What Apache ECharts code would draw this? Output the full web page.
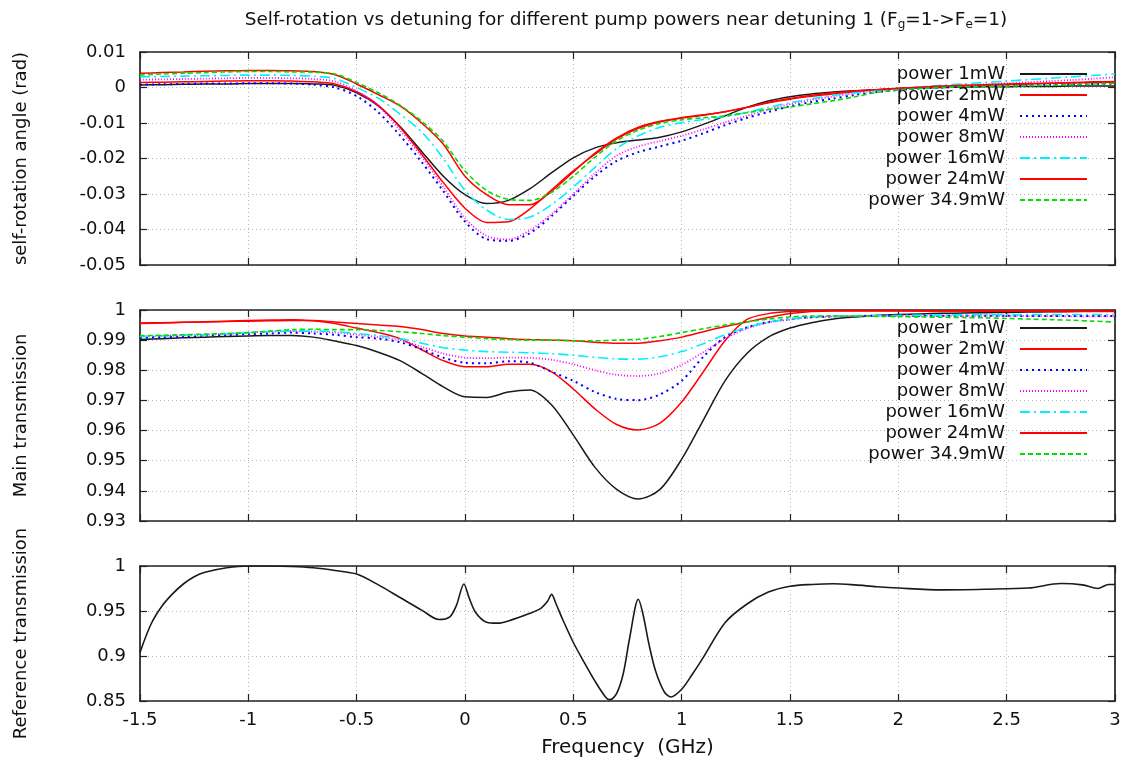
<!DOCTYPE html>
<html>
<head>
<meta charset="utf-8">
<script src="https://cdn.jsdelivr.net/npm/echarts@6/dist/echarts.min.js"></script>
<style>html,body{margin:0;padding:0;background:#fff}#c{width:1125px;height:763px}</style>
</head>
<body>
<div id="c"></div>
<script>
// ---------- data ----------
const names = ['power 1mW','power 2mW','power 4mW','power 8mW','power 16mW','power 24mW','power 34.9mW'];
const xs = [-1.5,-1.4,-1.3,-1.2,-1.1,-1.0,-0.9,-0.8,-0.7,-0.6,-0.5,-0.4,-0.3,-0.2,-0.1,0,0.1,0.2,0.3,0.4,0.5,0.6,0.7,0.8,0.9,1.0,1.1,1.2,1.3,1.4,1.5,1.6,1.7,1.8,1.9,2.0,2.1,2.2,2.3,2.4,2.5,2.6,2.7,2.8,2.9,3.0];

// self-rotation angle (rad)
const rot1 = [0.0007,0.0008,0.0009,0.0010,0.0010,0.0011,0.0011,0.0011,0.0010,0.0006,-0.0015,-0.0052,-0.0110,-0.0180,-0.0250,-0.0302,-0.0327,-0.0318,-0.0285,-0.0240,-0.0198,-0.0170,-0.0156,-0.0148,-0.0140,-0.0125,-0.0104,-0.0080,-0.0056,-0.0038,-0.0026,-0.0018,-0.0013,-0.0009,-0.0006,-0.0003,-0.0001,0.0000,0.0001,0.0002,0.0002,0.0003,0.0003,0.0004,0.0004,0.0004];
const rot2 = [0.0014,0.0015,0.0016,0.0017,0.0018,0.0019,0.0019,0.0018,0.0016,0.0010,-0.0012,-0.0050,-0.0112,-0.0188,-0.0268,-0.0340,-0.0380,-0.0378,-0.0342,-0.0288,-0.0235,-0.0188,-0.0145,-0.0115,-0.0097,-0.0086,-0.0078,-0.0068,-0.0056,-0.0043,-0.0033,-0.0025,-0.0018,-0.0012,-0.0007,-0.0003,0.0000,0.0002,0.0004,0.0006,0.0008,0.0010,0.0012,0.0014,0.0016,0.0017];
const rot4 = [0.0008,0.0009,0.0010,0.0011,0.0011,0.0012,0.0012,0.0011,0.0008,0.0000,-0.0024,-0.0070,-0.0135,-0.0210,-0.0292,-0.0378,-0.0427,-0.0432,-0.0410,-0.0362,-0.0305,-0.0250,-0.0207,-0.0182,-0.0166,-0.0150,-0.0129,-0.0106,-0.0086,-0.0069,-0.0053,-0.0041,-0.0031,-0.0021,-0.0013,-0.0007,-0.0003,0.0000,0.0002,0.0004,0.0005,0.0006,0.0008,0.0009,0.0010,0.0011];
const rot8 = [0.0022,0.0023,0.0024,0.0025,0.0026,0.0027,0.0027,0.0026,0.0024,0.0017,-0.0010,-0.0052,-0.0120,-0.0195,-0.0280,-0.0368,-0.0418,-0.0428,-0.0402,-0.0356,-0.0300,-0.0242,-0.0192,-0.0166,-0.0151,-0.0136,-0.0118,-0.0098,-0.0080,-0.0062,-0.0047,-0.0035,-0.0025,-0.0016,-0.0009,-0.0004,0.0000,0.0003,0.0006,0.0009,0.0012,0.0015,0.0018,0.0021,0.0025,0.0029];
const rot16 = [0.0030,0.0031,0.0032,0.0033,0.0034,0.0035,0.0035,0.0034,0.0032,0.0025,0.0000,-0.0030,-0.0075,-0.0125,-0.0200,-0.0290,-0.0345,-0.0372,-0.0365,-0.0330,-0.0280,-0.0225,-0.0172,-0.0136,-0.0112,-0.0099,-0.0090,-0.0082,-0.0070,-0.0056,-0.0043,-0.0032,-0.0022,-0.0015,-0.0008,-0.0003,0.0002,0.0006,0.0010,0.0014,0.0018,0.0022,0.0026,0.0030,0.0034,0.0038];
const rot24 = [0.0040,0.0042,0.0044,0.0046,0.0047,0.0048,0.0048,0.0047,0.0045,0.0036,0.0010,-0.0020,-0.0052,-0.0100,-0.0160,-0.0250,-0.0302,-0.0330,-0.0330,-0.0292,-0.0238,-0.0185,-0.0142,-0.0112,-0.0095,-0.0085,-0.0077,-0.0068,-0.0056,-0.0042,-0.0031,-0.0022,-0.0015,-0.0010,-0.0006,-0.0002,0.0001,0.0004,0.0006,0.0008,0.0010,0.0011,0.0012,0.0013,0.0014,0.0015];
const rot35 = [0.0035,0.0038,0.0040,0.0042,0.0044,0.0045,0.0045,0.0044,0.0043,0.0038,0.0014,-0.0015,-0.0050,-0.0095,-0.0152,-0.0235,-0.0290,-0.0315,-0.0318,-0.0295,-0.0250,-0.0196,-0.0150,-0.0120,-0.0101,-0.0091,-0.0085,-0.0080,-0.0071,-0.0062,-0.0055,-0.0046,-0.0037,-0.0026,-0.0014,-0.0007,-0.0003,0.0000,0.0002,0.0003,0.0004,0.0005,0.0006,0.0008,0.0010,0.0012];

// main transmission
const tr1 = [0.9902,0.9905,0.9908,0.9910,0.9912,0.9914,0.9915,0.9915,0.9910,0.9897,0.9882,0.9860,0.9832,0.9790,0.9745,0.9712,0.9710,0.9728,0.9735,0.9685,0.9585,0.9478,0.9405,0.9373,0.9405,0.9505,0.9635,0.9765,0.9855,0.9910,0.9940,0.9958,0.9970,0.9977,0.9982,0.9985,0.9987,0.9989,0.9990,0.9991,0.9992,0.9993,0.9994,0.9995,0.9996,0.9997];
const tr2 = [0.9955,0.9957,0.9959,0.9961,0.9963,0.9965,0.9967,0.9968,0.9964,0.9955,0.9940,0.9925,0.9905,0.9868,0.9832,0.9812,0.9812,0.9820,0.9820,0.9795,0.9738,0.9672,0.9620,0.9602,0.9625,0.9695,0.9795,0.9898,0.9968,0.9988,0.9995,0.9997,0.9998,0.9998,0.9998,0.9998,0.9997,0.9997,0.9997,0.9996,0.9996,0.9996,0.9995,0.9995,0.9995,0.9995];
const tr4 = [0.9908,0.9910,0.9912,0.9915,0.9917,0.9920,0.9922,0.9925,0.9922,0.9918,0.9910,0.9905,0.9893,0.9870,0.9842,0.9825,0.9823,0.9830,0.9825,0.9795,0.9765,0.9728,0.9705,0.9701,0.9720,0.9765,0.9845,0.9910,0.9942,0.9960,0.9970,0.9976,0.9979,0.9980,0.9981,0.9981,0.9981,0.9981,0.9981,0.9981,0.9981,0.9980,0.9980,0.9980,0.9980,0.9980];
const tr8 = [0.9912,0.9914,0.9916,0.9918,0.9921,0.9925,0.9928,0.9930,0.9928,0.9925,0.9918,0.9910,0.9900,0.9878,0.9855,0.9842,0.9840,0.9842,0.9841,0.9835,0.9820,0.9800,0.9785,0.9781,0.9790,0.9818,0.9860,0.9905,0.9938,0.9958,0.9968,0.9975,0.9978,0.9980,0.9981,0.9981,0.9981,0.9981,0.9981,0.9981,0.9980,0.9980,0.9980,0.9979,0.9979,0.9979];
const tr16 = [0.9912,0.9914,0.9916,0.9918,0.9921,0.9925,0.9928,0.9930,0.9930,0.9928,0.9922,0.9915,0.9905,0.9890,0.9875,0.9867,0.9862,0.9860,0.9858,0.9855,0.9850,0.9843,0.9838,0.9837,0.9845,0.9862,0.9888,0.9918,0.9942,0.9960,0.9970,0.9977,0.9980,0.9981,0.9982,0.9982,0.9983,0.9983,0.9984,0.9984,0.9984,0.9985,0.9985,0.9985,0.9985,0.9985];
const tr24 = [0.9957,0.9958,0.9959,0.9960,0.9962,0.9963,0.9964,0.9965,0.9965,0.9960,0.9955,0.9950,0.9945,0.9935,0.9922,0.9914,0.9910,0.9905,0.9902,0.9900,0.9898,0.9893,0.9890,0.9890,0.9898,0.9910,0.9928,0.9945,0.9960,0.9975,0.9988,0.9995,0.9997,0.9997,0.9997,0.9997,0.9997,0.9997,0.9997,0.9997,0.9997,0.9997,0.9997,0.9997,0.9997,0.9997];
const tr35 = [0.9915,0.9916,0.9918,0.9920,0.9922,0.9925,0.9930,0.9935,0.9936,0.9935,0.9935,0.9932,0.9928,0.9922,0.9915,0.9910,0.9905,0.9902,0.9900,0.9900,0.9898,0.9898,0.9900,0.9903,0.9912,0.9925,0.9938,0.9950,0.9960,0.9970,0.9977,0.9980,0.9980,0.9980,0.9979,0.9978,0.9977,0.9976,0.9975,0.9974,0.9972,0.9970,0.9968,0.9966,0.9963,0.9960];

// reference transmission
const refX = [-1.5,-1.45,-1.4,-1.35,-1.3,-1.25,-1.2,-1.1,-1.0,-0.9,-0.8,-0.7,-0.6,-0.5,-0.4,-0.3,-0.2,-0.12,-0.07,-0.04,-0.005,0.02,0.05,0.1,0.15,0.2,0.3,0.35,0.38,0.4,0.42,0.45,0.5,0.55,0.6,0.65,0.67,0.7,0.73,0.76,0.8,0.82,0.85,0.88,0.92,0.95,1.0,1.05,1.1,1.2,1.3,1.4,1.5,1.6,1.7,1.8,1.9,2.0,2.2,2.4,2.6,2.75,2.85,2.92,2.97,3.0];
const refY = [0.904,0.935,0.955,0.969,0.980,0.988,0.993,0.998,1.0,1.0,0.9995,0.998,0.995,0.991,0.979,0.965,0.951,0.9405,0.9435,0.956,0.980,0.964,0.948,0.9375,0.9365,0.939,0.9475,0.953,0.9605,0.9685,0.958,0.941,0.915,0.893,0.872,0.854,0.8515,0.8585,0.880,0.920,0.963,0.948,0.912,0.883,0.860,0.8545,0.863,0.880,0.8985,0.937,0.9575,0.971,0.9775,0.9795,0.9803,0.979,0.977,0.9755,0.9735,0.9742,0.9755,0.9805,0.979,0.975,0.9795,0.9795];

const xTicks = {min: -1.5, max: 3, interval: 0.5};

// ---------- chart ----------
const FONT = 'DejaVu Sans';
const styles = [
  {color: '#1a1a1a', type: 'solid', width: 1.5},
  {color: '#ff0000', type: 'solid', width: 1.5},
  {color: '#0000ff', type: [2, 4], width: 2},
  {color: '#ff00ff', type: [1, 2], width: 1.8},
  {color: '#00f0ff', type: [10, 4, 2, 4], width: 1.6},
  {color: '#ff0000', type: 'solid', width: 1.5},
  {color: '#00e000', type: [5, 3], width: 1.6}
];
const rotSets = [rot1, rot2, rot4, rot8, rot16, rot24, rot35];
const trSets = [tr1, tr2, tr4, tr8, tr16, tr24, tr35];

const grids = [
  {left: 140, right: 10, top: 52, height: 213},
  {left: 140, right: 10, top: 310, height: 211},
  {left: 140, right: 10, top: 566, height: 135}
];
const axisLine = {show: true, onZero: false, lineStyle: {color: '#222', width: 1.7}};
const tick = {show: true, inside: true, length: 7, lineStyle: {color: '#222', width: 1.2}};
const split = {show: true, lineStyle: {color: '#b5b5b5', type: [1, 3], width: 1}};
const lbl = {fontFamily: FONT, fontSize: 18, color: '#111'};
const fmt = v => String(+(+v).toFixed(4));

const xAxis = [], yAxis = [];
const yRanges = [
  {min: -0.05, max: 0.01, interval: 0.01, name: 'self-rotation angle (rad)'},
  {min: 0.93, max: 1, interval: 0.01, name: 'Main transmission'},
  {min: 0.85, max: 1, interval: 0.05, name: 'Reference transmission'}
];
for (let g = 0; g < 3; g++) {
  xAxis.push({type: 'value', gridIndex: g, position: 'bottom', ...xTicks,
    axisLine, axisTick: tick, splitLine: split,
    axisLabel: {show: g === 2, ...lbl, margin: 10, formatter: fmt},
    name: g === 2 ? 'Frequency  (GHz)' : '', nameLocation: 'middle', nameGap: 37,
    nameTextStyle: {fontFamily: FONT, fontSize: 20, color: '#111'}});
  xAxis.push({type: 'value', gridIndex: g, position: 'top', ...xTicks,
    axisLine, axisTick: tick, splitLine: {show: false}, axisLabel: {show: false}});
  const r = yRanges[g];
  yAxis.push({type: 'value', gridIndex: g, position: 'left', min: r.min, max: r.max, interval: r.interval,
    axisLine, axisTick: tick, splitLine: split,
    axisLabel: {...lbl, margin: 14, formatter: fmt},
    name: r.name, nameLocation: 'middle', nameRotate: 90, nameGap: 110,
    nameTextStyle: {fontFamily: FONT, fontSize: 18, color: '#111'}});
  yAxis.push({type: 'value', gridIndex: g, position: 'right', min: r.min, max: r.max, interval: r.interval,
    axisLine, axisTick: tick, splitLine: {show: false}, axisLabel: {show: false}});
}

const series = [];
names.forEach((n, i) => {
  series.push({name: n, type: 'line', xAxisIndex: 0, yAxisIndex: 0, symbol: 'none', smooth: 0.3,
    lineStyle: styles[i], itemStyle: {color: styles[i].color},
    data: xs.map((x, k) => [x, rotSets[i][k]])});
});
names.forEach((n, i) => {
  series.push({name: n, type: 'line', xAxisIndex: 2, yAxisIndex: 2, symbol: 'none', smooth: 0.3,
    lineStyle: styles[i], itemStyle: {color: styles[i].color},
    data: xs.map((x, k) => [x, trSets[i][k]])});
});
series.push({name: 'reference', type: 'line', xAxisIndex: 4, yAxisIndex: 4, symbol: 'none', smooth: 0.3,
  lineStyle: {color: '#1a1a1a', width: 1.6}, itemStyle: {color: '#1a1a1a'},
  data: refX.map((x, k) => [x, refY[k]])});

const legendBase = {
  orient: 'vertical', align: 'right', right: 32, itemWidth: 67, itemHeight: 14, itemGap: 3,
  data: names, selectedMode: false,
  itemStyle: {opacity: 0},
  textStyle: {fontFamily: FONT, fontSize: 18, lineHeight: 16, color: '#111', padding: [0, 10, 0, 0]}
};

const chart = echarts.init(document.getElementById('c'), null, {renderer: 'canvas'});
chart.setOption({
  animation: false,
  backgroundColor: '#fff',
  title: {
    text: 'Self-rotation vs detuning for different pump powers near detuning 1 (F{s|g}=1->F{s|e}=1)',
    left: 621, top: 4, textAlign: 'center',
    textStyle: {fontFamily: FONT, fontSize: 18.5, fontWeight: 'normal', color: '#111',
      rich: {s: {fontFamily: FONT, fontSize: 12, color: '#111', verticalAlign: 'bottom', padding: [10, 0, 0, 0]}}}
  },
  grid: grids,
  xAxis, yAxis, series,
  legend: [
    {...legendBase, top: 60},
    {...legendBase, top: 314}
  ]
});
</script>
</body>
</html>
